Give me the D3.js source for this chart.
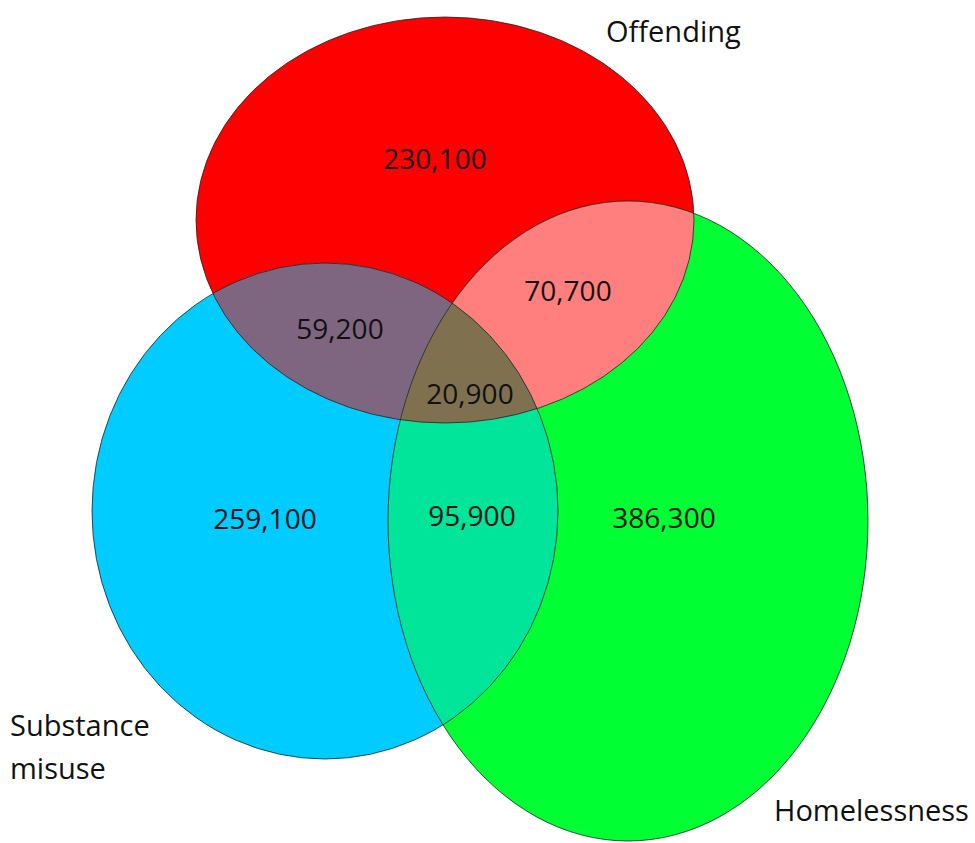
<!DOCTYPE html>
<html lang="en">
<head>
    <meta charset="UTF-8">
    <title>Offending, substance misuse and homelessness</title>
    <script src="https://d3js.org/d3.v7.min.js"></script>
    <style>
        body { margin: 0; background: #fff; }
        text { font-family: "Open Sans", sans-serif; fill: #111; }
    </style>
</head>
<body>
    <div id="chart"></div>
    <script>
        const width = 975;
        const height = 843;

        // sets and the counts of each region
        const setNames = ["Offending", "Substance misuse", "Homelessness"];
        const regionSets = [["Offending"], ["Substance misuse"], ["Homelessness"],
            ["Offending", "Substance misuse"], ["Offending", "Homelessness"],
            ["Substance misuse", "Homelessness"], ["Offending", "Substance misuse", "Homelessness"]];
        const regionValues = [230100, 259100, 386300, 59200, 70700, 95900, 20900];

        // layout of the hand-drawn ellipses (pixels)
        const shapes = {
            "Offending":        { cx: 445, cy: 220, rx: 249, ry: 203, fill: "#ff0000" },
            "Substance misuse": { cx: 325, cy: 511, rx: 233, ry: 248, fill: "#00ccff" },
            "Homelessness":     { cx: 628, cy: 521, rx: 240, ry: 320, fill: "#00ff33" }
        };
        const overlapFill = {
            "Offending|Substance misuse": "#7f6680",
            "Offending|Homelessness": "#ff7f7f",
            "Substance misuse|Homelessness": "#00e59a",
            "Offending|Substance misuse|Homelessness": "#7f7050"
        };
        const labelPos = [[435, 158], [265, 518], [664, 517], [340, 328], [568, 290], [472, 515], [470, 393]];
        const nameLabels = [
            { lines: ["Offending"], x: 606, y: 42 },
            { lines: ["Substance", "misuse"], x: 10, y: 736 },
            { lines: ["Homelessness"], x: 774, y: 821 }
        ];

        const fmt = d3.format(",");
        const idOf = n => "clip-" + n.replace(/\s+/g, "-");

        const svg = d3.select("#chart").append("svg")
            .attr("width", width)
            .attr("height", height);

        const defs = svg.append("defs");
        setNames.forEach(n => {
            const s = shapes[n];
            defs.append("clipPath").attr("id", idOf(n))
                .append("ellipse")
                .attr("cx", s.cx).attr("cy", s.cy).attr("rx", s.rx).attr("ry", s.ry);
        });

        const ellipse = (sel, n) => {
            const s = shapes[n];
            return sel.append("ellipse")
                .attr("cx", s.cx).attr("cy", s.cy).attr("rx", s.rx).attr("ry", s.ry);
        };

        // base ellipses
        setNames.forEach(n => ellipse(svg, n).attr("fill", shapes[n].fill));

        // overlaps: the last set's ellipse clipped by every other set
        regionSets.filter(r => r.length > 1).forEach(r => {
            let g = svg;
            r.slice(0, -1).forEach(n => {
                g = g.append("g").attr("clip-path", `url(#${idOf(n)})`);
            });
            ellipse(g, r[r.length - 1]).attr("fill", overlapFill[r.join("|")]);
        });

        // outlines
        setNames.forEach(n => ellipse(svg, n)
            .attr("fill", "none")
            .attr("stroke", "#222")
            .attr("stroke-width", 0.8));

        // region counts
        svg.selectAll("text.count")
            .data(regionValues)
            .join("text")
            .attr("class", "count")
            .attr("x", (d, i) => labelPos[i][0])
            .attr("y", (d, i) => labelPos[i][1])
            .attr("text-anchor", "middle")
            .attr("dominant-baseline", "central")
            .style("font-size", "28px")
            .text(d => fmt(d));

        // set names
        nameLabels.forEach(l => {
            const t = svg.append("text")
                .attr("x", l.x).attr("y", l.y)
                .style("font-size", "29px");
            l.lines.forEach((line, i) => {
                t.append("tspan").attr("x", l.x).attr("dy", i ? 43 : 0).text(line);
            });
        });
    </script>
</body>
</html>
